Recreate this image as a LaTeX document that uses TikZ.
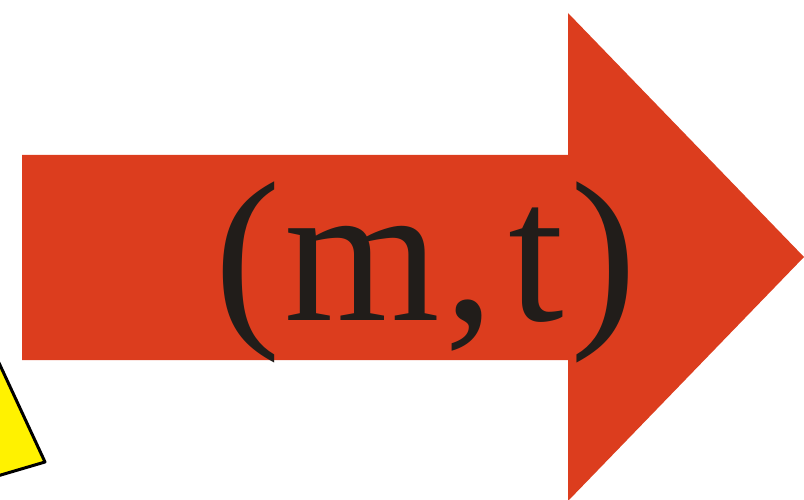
\documentclass[tikz,border=0pt]{standalone}
\usepackage{fontspec}
\setmainfont{Liberation Serif}
\definecolor{arrowred}{RGB}{220,61,30}
\definecolor{signyellow}{RGB}{255,242,0}
\definecolor{inkdark}{RGB}{33,29,26}
\begin{document}
\begin{tikzpicture}[x=1pt,y=-1pt,
  bigarrow/.style={fill=arrowred,draw=none},
  warn/.style={fill=signyellow,draw=black,line width=3pt,line join=round},
  label/.style={text=inkdark,font=\fontsize{200}{200}\selectfont,inner sep=0pt,anchor=base west}]
\useasboundingbox (0,0) rectangle (804,500);
\clip (0,0) rectangle (804,500);
\fill[bigarrow] (22,155) -- (568,155) -- (568,13) -- (804,257) -- (568,501) -- (568,360) -- (22,360) -- cycle;
\draw[warn] (-20,322) -- (45,462) -- (-40,487) -- cycle;
\node[label] (lbl) at (214,320) {(\kern3.5pt m\kern5pt,\kern14pt t\kern5.5pt)};
\end{tikzpicture}
\end{document}
